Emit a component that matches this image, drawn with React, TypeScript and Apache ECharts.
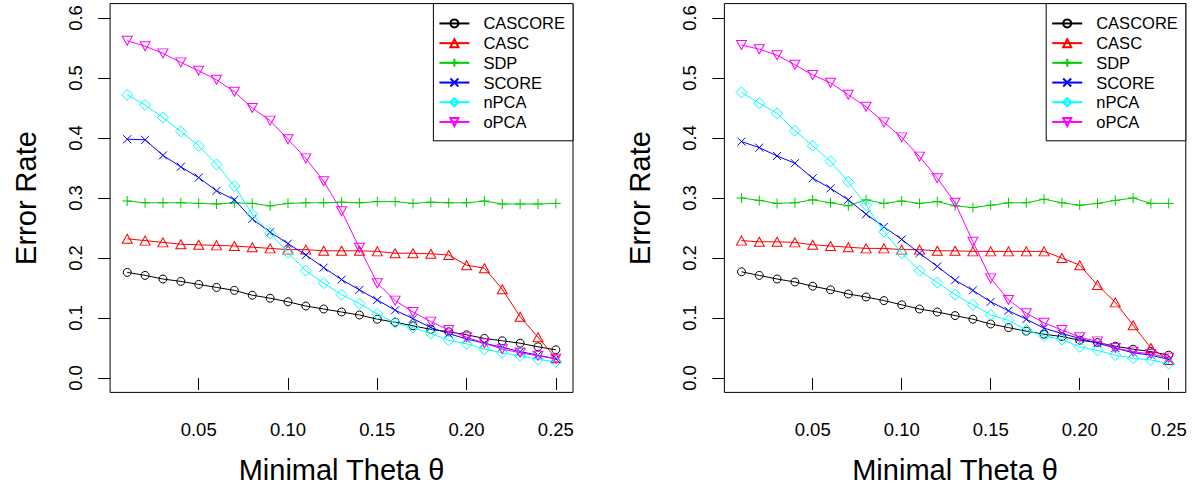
import React, { useEffect, useRef } from "react";
import * as echarts from "echarts";

const FONT = "'Liberation Sans', Arial, Helvetica, sans-serif";

const theta = [0.01, 0.02, 0.03, 0.04, 0.05, 0.06, 0.07, 0.08, 0.09, 0.10, 0.11, 0.12, 0.13, 0.14, 0.15, 0.16, 0.17, 0.18, 0.19, 0.20, 0.21, 0.22, 0.23, 0.24, 0.25];
const xTicks = [0.05, 0.10, 0.15, 0.20, 0.25];
const yTicks = [0.0, 0.1, 0.2, 0.3, 0.4, 0.5, 0.6];
const methods = ["CASCORE", "CASC", "SDP", "SCORE", "nPCA", "oPCA"];

// Left panel
const cascoreA = [0.176, 0.171, 0.165, 0.161, 0.156, 0.151, 0.146, 0.138, 0.133, 0.127, 0.120, 0.115, 0.110, 0.105, 0.098, 0.093, 0.087, 0.081, 0.077, 0.072, 0.066, 0.062, 0.058, 0.052, 0.047];
const cascA = [0.232, 0.229, 0.226, 0.223, 0.222, 0.221, 0.220, 0.218, 0.216, 0.214, 0.214, 0.212, 0.212, 0.212, 0.211, 0.208, 0.208, 0.207, 0.205, 0.188, 0.183, 0.148, 0.102, 0.068, 0.033];
const sdpA = [0.295, 0.292, 0.292, 0.292, 0.291, 0.290, 0.292, 0.291, 0.287, 0.291, 0.292, 0.292, 0.293, 0.292, 0.294, 0.294, 0.291, 0.293, 0.292, 0.292, 0.295, 0.290, 0.290, 0.290, 0.291];
const scoreA = [0.398, 0.397, 0.371, 0.352, 0.334, 0.312, 0.297, 0.265, 0.243, 0.224, 0.205, 0.184, 0.164, 0.147, 0.130, 0.113, 0.099, 0.084, 0.074, 0.065, 0.058, 0.051, 0.044, 0.038, 0.032];
const npcaA = [0.472, 0.455, 0.434, 0.411, 0.387, 0.356, 0.320, 0.273, 0.241, 0.209, 0.179, 0.158, 0.139, 0.124, 0.107, 0.092, 0.084, 0.074, 0.063, 0.057, 0.048, 0.042, 0.037, 0.031, 0.027];
const opcaA = [0.562, 0.553, 0.541, 0.526, 0.512, 0.497, 0.477, 0.450, 0.429, 0.398, 0.366, 0.328, 0.278, 0.217, 0.158, 0.129, 0.110, 0.094, 0.080, 0.068, 0.058, 0.048, 0.042, 0.037, 0.032];

// Right panel
const cascoreB = [0.177, 0.171, 0.165, 0.160, 0.153, 0.147, 0.140, 0.135, 0.129, 0.122, 0.115, 0.110, 0.104, 0.098, 0.090, 0.084, 0.078, 0.073, 0.069, 0.063, 0.059, 0.053, 0.048, 0.044, 0.038];
const cascB = [0.229, 0.227, 0.227, 0.226, 0.222, 0.220, 0.218, 0.216, 0.216, 0.214, 0.214, 0.212, 0.212, 0.211, 0.211, 0.211, 0.211, 0.211, 0.200, 0.188, 0.155, 0.126, 0.088, 0.050, 0.030];
const sdpB = [0.300, 0.296, 0.291, 0.292, 0.297, 0.292, 0.287, 0.297, 0.291, 0.295, 0.291, 0.294, 0.287, 0.284, 0.288, 0.292, 0.292, 0.298, 0.292, 0.288, 0.291, 0.296, 0.300, 0.291, 0.291];
const scoreB = [0.394, 0.384, 0.370, 0.358, 0.333, 0.316, 0.297, 0.273, 0.252, 0.231, 0.208, 0.186, 0.163, 0.146, 0.127, 0.112, 0.098, 0.083, 0.074, 0.066, 0.058, 0.050, 0.042, 0.038, 0.031];
const npcaB = [0.476, 0.458, 0.441, 0.412, 0.387, 0.361, 0.327, 0.288, 0.244, 0.208, 0.179, 0.159, 0.139, 0.122, 0.105, 0.096, 0.080, 0.070, 0.064, 0.052, 0.046, 0.038, 0.033, 0.030, 0.024];
const opcaB = [0.555, 0.548, 0.538, 0.522, 0.505, 0.492, 0.472, 0.452, 0.426, 0.401, 0.369, 0.333, 0.292, 0.227, 0.166, 0.130, 0.108, 0.092, 0.080, 0.068, 0.061, 0.050, 0.044, 0.040, 0.034];

const panels = [
  [cascoreA, cascA, sdpA, scoreA, npcaA, opcaA],
  [cascoreB, cascB, sdpB, scoreB, npcaB, opcaB],
];

const colors = ["#000000", "#FF0000", "#00CD00", "#0000FF", "#00FFFF", "#FF00FF"];
const symbols: any[] = [
  { symbol: "circle", size: 8, rotate: 0 },
  { symbol: "triangle", size: [10, 9], rotate: 0 },
  { symbol: "path://M5,0L5,10M0,5L10,5", size: 10, rotate: 0 },
  { symbol: "path://M0,0L10,10M0,10L10,0", size: 8, rotate: 0 },
  { symbol: "diamond", size: 11, rotate: 0 },
  { symbol: "triangle", size: [10, 9], rotate: 180 },
];

const grids = [
  { left: 110.1, top: 3.6, width: 462.9, height: 388.8 },
  { left: 724.4, top: 3.6, width: 461.4, height: 388.8 },
];

export default function App() {
  const ref = useRef<HTMLDivElement>(null);
  useEffect(() => {
    if (!ref.current) return;
    const chart = echarts.init(ref.current, undefined, { renderer: "svg" });
    const series: any[] = [];
    panels.forEach((vals, p) => {
      vals.forEach((arr, k) => {
        series.push({
          type: "line",
          name: methods[k],
          xAxisIndex: p,
          yAxisIndex: p,
          data: theta.map((t, i) => [t, arr[i]]),
          symbol: symbols[k].symbol,
          symbolSize: symbols[k].size,
          symbolRotate: symbols[k].rotate,
          showAllSymbol: true,
          lineStyle: { color: colors[k], width: 1 },
          itemStyle: { color: "rgba(0,0,0,0)", borderColor: colors[k], borderWidth: 1 },
          emphasis: { disabled: true },
          z: 2 + k,
        });
      });
    });
    const mkX = (i: number) => ({
      type: "value",
      gridIndex: i,
      min: 0.0004,
      max: 0.2596,
      name: "Minimal Theta θ",
      nameLocation: "middle",
      nameGap: 63,
      nameTextStyle: { fontFamily: FONT, fontSize: 29, color: "#000" },
      axisLine: { show: false },
      axisTick: { show: true, length: 12, customValues: xTicks, lineStyle: { color: "#000", width: 1 } },
      axisLabel: {
        show: true,
        customValues: xTicks,
        formatter: (v: number) => v.toFixed(2),
        fontFamily: FONT,
        fontSize: 18.5,
        color: "#000",
        margin: 28,
      },
      splitLine: { show: false },
    });
    const mkY = (i: number) => ({
      type: "value",
      gridIndex: i,
      min: -0.024,
      max: 0.624,
      name: "Error Rate",
      nameLocation: "middle",
      nameRotate: 90,
      nameGap: 70,
      nameTextStyle: { fontFamily: FONT, fontSize: 29, color: "#000" },
      axisLine: { show: false },
      axisTick: { show: true, length: 12, customValues: yTicks, lineStyle: { color: "#000", width: 1 } },
      axisLabel: {
        show: true,
        customValues: yTicks,
        rotate: 90,
        formatter: (v: number) => v.toFixed(1),
        fontFamily: FONT,
        fontSize: 18.5,
        color: "#000",
        margin: 25,
      },
      splitLine: { show: false },
    });
    const mkLegend = (right: number) => ({
      orient: "vertical",
      right,
      top: 3.6,
      data: methods,
      itemWidth: 30,
      itemHeight: 10,
      itemGap: 0,
      padding: [10, 8, 9, 5],
      borderColor: "#000",
      borderWidth: 1,
      backgroundColor: "#fff",
      selectedMode: false,
      textStyle: { fontFamily: FONT, fontSize: 16.5, color: "#000", lineHeight: 19.7, padding: [0, 0, 0, 9] },
    });
    chart.setOption({
      animation: false,
      grid: grids.map((g) => ({ ...g, show: true, borderColor: "#000", borderWidth: 1, backgroundColor: "transparent" })),
      xAxis: [mkX(0), mkX(1)],
      yAxis: [mkY(0), mkY(1)],
      legend: [mkLegend(1195 - 573), mkLegend(1195 - 1185.8)],
      series,
    });
    return () => chart.dispose();
  }, []);
  return (
    <div
      ref={ref}
      style={{ position: "absolute", left: 0, top: 0, width: 1195, height: 493, background: "#fff" }}
    />
  );
}
